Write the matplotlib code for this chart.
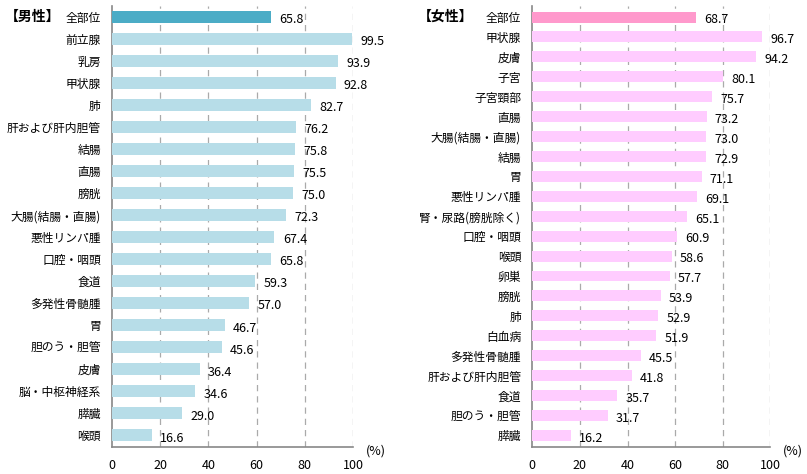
import matplotlib
matplotlib.use("Agg")
import matplotlib.pyplot as plt

plt.rcParams['font.family'] = ['Noto Sans CJK JP', 'DejaVu Sans']

# 男性
male_labels = ["全部位", "前立腺", "乳房", "甲状腺", "肺", "肝および肝内胆管", "結腸", "直腸",
               "膀胱", "大腸(結腸・直腸)", "悪性リンパ腫", "口腔・咽頭", "食道", "多発性骨髄腫",
               "胃", "胆のう・胆管", "皮膚", "脳・中枢神経系", "膵臓", "喉頭"]
male_values = [65.8, 99.5, 93.9, 92.8, 82.7, 76.2, 75.8, 75.5, 75.0, 72.3, 67.4, 65.8,
               59.3, 57.0, 46.7, 45.6, 36.4, 34.6, 29.0, 16.6]

# 女性
female_labels = ["全部位", "甲状腺", "皮膚", "子宮", "子宮頸部", "直腸", "大腸(結腸・直腸)", "結腸",
                 "胃", "悪性リンパ腫", "腎・尿路(膀胱除く)", "口腔・咽頭", "喉頭", "卵巣", "膀胱",
                 "肺", "白血病", "多発性骨髄腫", "肝および肝内胆管", "食道", "胆のう・胆管", "膵臓"]
female_values = [68.7, 96.7, 94.2, 80.1, 75.7, 73.2, 73.0, 72.9, 71.1, 69.1, 65.1, 60.9,
                 58.6, 57.7, 53.9, 52.9, 51.9, 45.5, 41.8, 35.7, 31.7, 16.2]

xticks = [0, 20, 40, 60, 80, 100]

W, H = 807, 474
fig = plt.figure(figsize=(W / 100, H / 100), dpi=100, facecolor='white')


def draw_panel(rect, labels, values, c_total, c_bar, pad):
    ax = fig.add_axes(rect)
    n = len(labels)
    ypos = list(range(n))
    colors = [c_total] + [c_bar] * (n - 1)
    ax.barh(ypos, values, height=0.55, color=colors, zorder=3)
    ax.set_xlim(0, 100)
    ax.set_ylim(n - 1 + pad, -pad)
    ax.set_yticks(ypos)
    ax.set_yticklabels(labels, fontsize=8.5)
    ax.set_xticks(xticks)
    ax.set_xticklabels([str(t) for t in xticks], fontsize=9)
    ax.tick_params(axis='both', length=0)
    ax.tick_params(axis='x', pad=9)
    ax.tick_params(axis='y', pad=8)
    for x in xticks[1:]:
        ax.axvline(x, color='#aaaaaa', linestyle=(0, (5, 4)), linewidth=0.9, zorder=1)
    for s in ['top', 'right']:
        ax.spines[s].set_visible(False)
    for s in ['left', 'bottom']:
        ax.spines[s].set_color('#888888')
        ax.spines[s].set_linewidth(1.2)
    for y, v in zip(ypos, values):
        ax.annotate(f"{v:.1f}", xy=(v, y), xytext=(6, -2), textcoords='offset points',
                    va='center', ha='left', fontsize=9, zorder=4)
    ax.annotate("(%)", xy=(1.0, 0.0), xycoords='axes fraction', xytext=(9, -3),
                textcoords='offset points', fontsize=9, ha='left', va='center')
    return ax


axm = draw_panel([112 / W, 1 - 446.7 / H, 241 / W, 441 / H], male_labels, male_values,
                 "#4BACC6", "#B7DDE8", 0.52)
fig.text(5 / W, 1 - 17 / H, "【男性】", fontsize=10, fontweight='bold', va='center', ha='left')

axf = draw_panel([532.3 / W, 1 - 446.7 / H, 238 / W, 441 / H], female_labels, female_values,
                 "#FF99CC", "#FFCCFF", 0.57)
fig.text(418 / W, 1 - 17 / H, "【女性】", fontsize=10, fontweight='bold', va='center', ha='left')

fig.savefig("out.png", dpi=100, facecolor='white')
